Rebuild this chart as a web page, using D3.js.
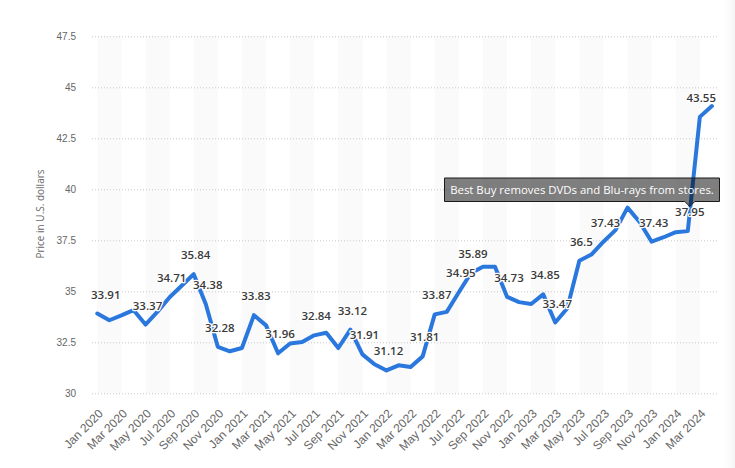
<!DOCTYPE html>
<html>
<head>
<meta charset="utf-8">
<script src="https://cdn.jsdelivr.net/npm/d3@7"></script>
<style>
  html, body { margin: 0; padding: 0; background: #fff; }
  svg { display: block; font-family: "Open Sans", "Noto Sans", sans-serif; }
</style>
</head>
<body>
<svg id="chart" width="735" height="468"></svg>
<script>
// ---- data ----
const months = [
  "Jan 2020","Feb 2020","Mar 2020","Apr 2020","May 2020","Jun 2020","Jul 2020","Aug 2020","Sep 2020","Oct 2020","Nov 2020","Dec 2020",
  "Jan 2021","Feb 2021","Mar 2021","Apr 2021","May 2021","Jun 2021","Jul 2021","Aug 2021","Sep 2021","Oct 2021","Nov 2021","Dec 2021",
  "Jan 2022","Feb 2022","Mar 2022","Apr 2022","May 2022","Jun 2022","Jul 2022","Aug 2022","Sep 2022","Oct 2022","Nov 2022","Dec 2022",
  "Jan 2023","Feb 2023","Mar 2023","Apr 2023","May 2023","Jun 2023","Jul 2023","Aug 2023","Sep 2023","Oct 2023","Nov 2023","Dec 2023",
  "Jan 2024","Feb 2024","Mar 2024","Apr 2024"
];
const prices = [
  33.91, 33.58, 33.82, 34.08, 33.37, 34.00, 34.71, 35.27, 35.84, 34.38, 32.28, 32.06,
  32.22, 33.83, 33.33, 31.96, 32.44, 32.51, 32.84, 32.97, 32.22, 33.12, 31.91, 31.42,
  31.12, 31.37, 31.29, 31.81, 33.87, 33.99, 34.95, 35.89, 36.20, 36.20, 34.73, 34.47,
  34.38, 34.85, 33.47, 34.17, 36.50, 36.80, 37.43, 38.00, 39.10, 38.40, 37.43, 37.65,
  37.90, 37.95, 43.55, 44.08
];
const labeledMonths = [
  "Jan 2020","May 2020","Jul 2020","Sep 2020","Oct 2020","Nov 2020","Feb 2021","Apr 2021",
  "Jul 2021","Oct 2021","Nov 2021","Jan 2022","Apr 2022","May 2022","Jul 2022","Aug 2022",
  "Nov 2022","Feb 2023","Mar 2023","May 2023","Jul 2023","Nov 2023","Feb 2024","Mar 2024"
];
const tickLabels = [
  "Jan 2020","Mar 2020","May 2020","Jul 2020","Sep 2020","Nov 2020","Jan 2021","Mar 2021","May 2021","Jul 2021","Sep 2021","Nov 2021",
  "Jan 2022","Mar 2022","May 2022","Jul 2022","Sep 2022","Nov 2022","Jan 2023","Mar 2023","May 2023","Jul 2023","Sep 2023","Nov 2023",
  "Jan 2024","Mar 2024"
];
const yTicks = [30, 32.5, 35, 37.5, 40, 42.5, 45, 47.5];
const yTitle = "Price in U.S. dollars";
const annotationText = "Best Buy removes DVDs and Blu-rays from stores.";
const annotationMonth = "Feb 2024";

// ---- layout ----
const plotLeft = 92, plotRight = 718, plotTop = 36.3, plotBottom = 393.3;
const svg = d3.select("#chart");

const defs = svg.append("defs");
const grad = defs.append("linearGradient").attr("id", "fade").attr("x1", 0).attr("x2", 1).attr("y1", 0).attr("y2", 0);
grad.append("stop").attr("offset", 0).attr("stop-color", "#fff").attr("stop-opacity", 0);
grad.append("stop").attr("offset", 1).attr("stop-color", "#ececec").attr("stop-opacity", 1);

const x = d3.scalePoint().domain(months).range([97.3, 711.9]);
const y = d3.scaleLinear().domain([30, 47.5]).range([plotBottom, plotTop]);

// alternate bands (every other 2-month tick interval)
const bandG = svg.append("g");
for (let i = 0; i < tickLabels.length - 1; i += 2) {
  const x0 = x(tickLabels[i]), x1 = x(tickLabels[i + 1]);
  bandG.append("rect")
    .attr("x", x0).attr("y", plotTop)
    .attr("width", x1 - x0).attr("height", plotBottom - plotTop)
    .attr("fill", "#fafafa");
}

// y grid + labels
const yAxis = d3.axisLeft(y).tickValues(yTicks).tickSize(-(plotRight - plotLeft)).tickPadding(16)
  .tickFormat(d => d3.format("")(d));
const yG = svg.append("g").attr("transform", `translate(${plotLeft},0)`).call(yAxis);
yG.select(".domain").remove();
yG.selectAll(".tick line").attr("stroke", "#c8c8c8").attr("stroke-dasharray", "1,2");
yG.selectAll(".tick text").attr("fill", "#666").style("font-size", "10px");

// y title
svg.append("text")
  .attr("transform", `translate(44,214) rotate(-90)`)
  .attr("text-anchor", "middle")
  .attr("fill", "#666").style("font-size", "10px")
  .text(yTitle);

// x labels
const xAxis = d3.axisBottom(x).tickValues(tickLabels).tickSize(0).tickPadding(0);
const xG = svg.append("g").attr("transform", `translate(0,${plotBottom})`).call(xAxis);
xG.select(".domain").remove();
xG.selectAll(".tick text")
  .attr("text-anchor", "end")
  .attr("dy", 0)
  .attr("transform", "translate(6,21) rotate(-45)")
  .attr("fill", "#666").style("font-size", "12px");

// line
const line = d3.line().x((d, i) => x(months[i])).y(d => y(d));
svg.append("path")
  .datum(prices)
  .attr("d", line)
  .attr("fill", "none")
  .attr("stroke", "#2a78de")
  .attr("stroke-width", 4)
  .attr("stroke-linejoin", "round")
  .attr("stroke-linecap", "round");

// data labels
const lblG = svg.append("g");
labeledMonths.forEach(m => {
  const i = months.indexOf(m);
  const v = prices[i];
  const t = lblG.append("text")
    .attr("y", y(v) - 15)
    .attr("text-anchor", "middle")
    .attr("fill", "#3a3a3a")
    .attr("stroke", "#fff").attr("stroke-width", 2.5).attr("paint-order", "stroke")
    .attr("stroke-linejoin", "round")
    .style("font-size", "11.5px").style("font-weight", "600")
    .text(d3.format("")(v));
  const w = t.node().getComputedTextLength();
  let cx = x(m) + 2;
  cx = Math.max(plotLeft + w / 2 - 1, Math.min(plotRight - w / 2 - 2, cx));
  t.attr("x", cx);
});

// annotation callout
const ax = x(annotationMonth) + 2;
const bx0 = 444.5, bx1 = 719.5, by0 = 178, by1 = 201.5;
const callout = `M${bx0},${by0} H${bx1} V${by1} H${ax + 5} L${ax},${by1 + 5} L${ax - 5},${by1} H${bx0} Z`;
svg.append("path").attr("d", callout)
  .attr("fill", "rgba(0,0,0,0.5)")
  .attr("stroke", "#1a1a1a").attr("stroke-width", 1);
svg.append("text")
  .attr("x", (bx0 + bx1) / 2).attr("y", (by0 + by1) / 2 + 4.3)
  .attr("text-anchor", "middle")
  .attr("fill", "#fff").style("font-size", "11.4px")
  .text(annotationText);

// right-edge fade
svg.append("rect").attr("x", 721).attr("y", 0).attr("width", 14).attr("height", 468)
  .attr("fill", "url(#fade)").attr("opacity", 0.6);
</script>
</body>
</html>
